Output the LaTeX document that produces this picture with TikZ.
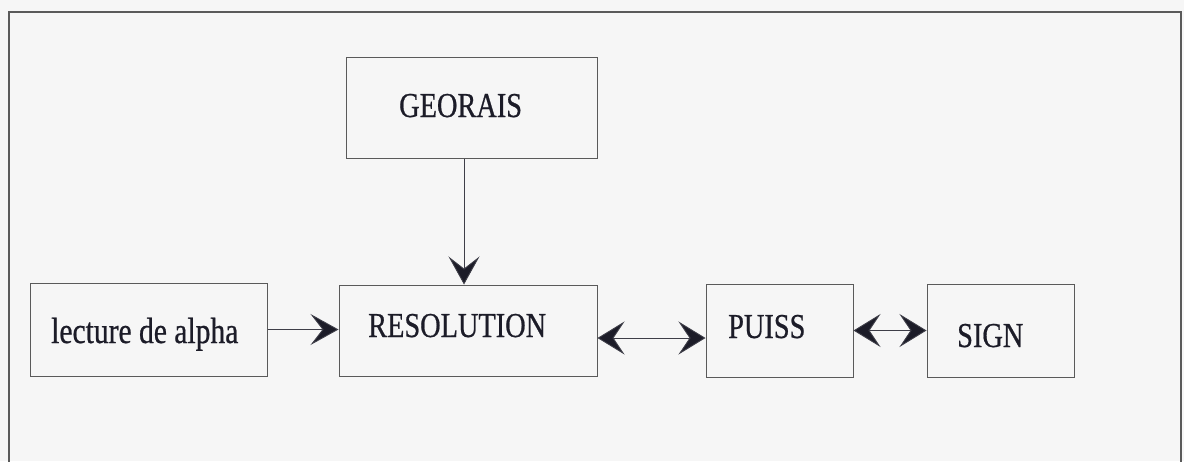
\documentclass[tikz,border=0pt]{standalone}
\usepackage{fontspec}
\setmainfont{Liberation Serif}[FakeStretch=0.81,FakeBold=0.6]
\usetikzlibrary{arrows.meta}
\definecolor{bg}{HTML}{F6F6F6}
\definecolor{boxline}{HTML}{5A5A5A}
\definecolor{ink}{HTML}{1C1C28}
\tikzset{
  box/.style={draw=boxline, line width=1pt, rectangle, inner sep=0pt},
  lbl/.style={anchor=base west, inner sep=0pt, text=ink, font=\fontsize{35}{40}\selectfont},
  arr/.style={draw=ink!85, line width=0.9pt, -{Stealth[length=28pt,width=31pt,inset=12pt,fill=ink]}},
  darr/.style={draw=ink!85, line width=0.9pt, {Stealth[length=27pt,width=33pt,inset=11pt,fill=ink]}-{Stealth[length=27pt,width=33pt,inset=11pt,fill=ink]}}
}
\begin{document}
\begin{tikzpicture}[x=1pt,y=-1pt]
\useasboundingbox (0,0) rectangle (1184,461);
\fill[bg] (0,0) rectangle (1184,461);
\begin{scope}
\clip (0,0) rectangle (1184,461);
\draw[boxline, line width=1.1pt] (9,470) -- (9,12) -- (1181,12) -- (1181,470);
\end{scope}
% boxes
\node[box, minimum width=237pt, minimum height=93pt] (lec) at (148.5,329.5) {};
\node[box, minimum width=251pt, minimum height=101pt] (geo) at (471.5,107.5) {};
\node[box, minimum width=258pt, minimum height=91pt] (res) at (468,330.5) {};
\node[box, minimum width=147pt, minimum height=93pt] (pui) at (779.5,330.5) {};
\node[box, minimum width=147pt, minimum height=93pt] (sig) at (1000.5,330.5) {};
% labels
\node[lbl, font=\fontsize{36.5}{40}\selectfont] (lect) at (51,343) {lecture de alpha};
\node[lbl] (geot) at (399,117) {GEORAIS};
\node[lbl] (rest) at (368,337) {RESOLUTION};
\node[lbl] (puit) at (728,338) {PUISS};
\node[lbl] (sigt) at (957,347) {SIGN};
% connectors
\draw[arr] ([xshift=-7.5pt]geo.south) -- ([xshift=-4pt]res.north);
\draw[arr] (lec.east) -- (lec.east -| res.west);
\draw[darr] ([yshift=-7.5pt]res.east) -- ([yshift=-7.5pt]res.east -| pui.west);
\draw[darr] (pui.east) -- (sig.west);
\end{tikzpicture}
\end{document}
